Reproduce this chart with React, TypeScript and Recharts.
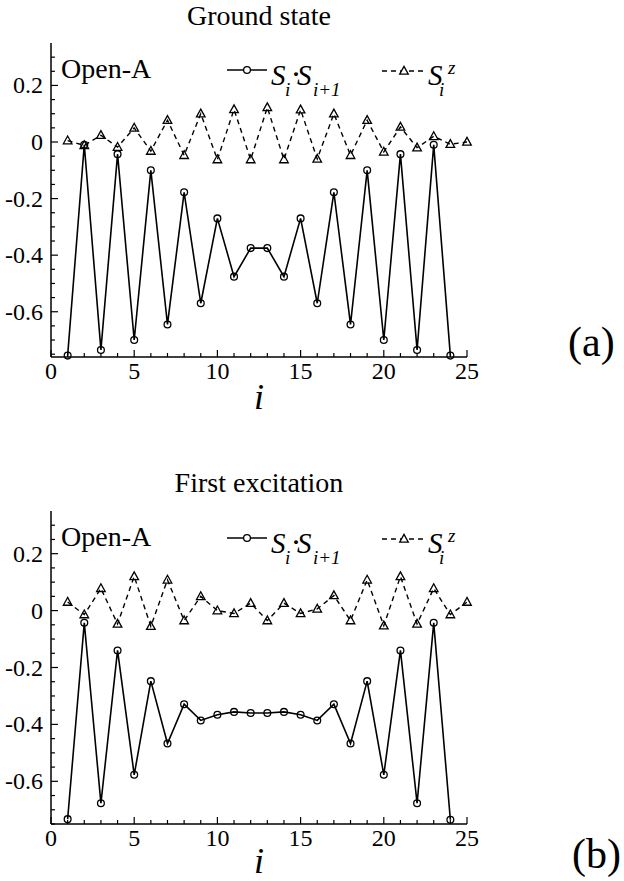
import React from 'react';
import { LineChart, Line, XAxis, YAxis, Legend } from 'recharts';

const FONT = "'Times New Roman', 'Liberation Serif', 'DejaVu Serif', serif";
const W = 624;

// site index i
const sites = [1, 2, 3, 4, 5, 6, 7, 8, 9, 10, 11, 12, 13, 14, 15, 16, 17, 18, 19, 20, 21, 22, 23, 24, 25];

// (a) Ground state
const groundSS = [-0.755, -0.01, -0.735, -0.043, -0.7, -0.1, -0.645, -0.178, -0.57, -0.27, -0.476, -0.375,
  -0.375, -0.476, -0.27, -0.57, -0.178, -0.645, -0.1, -0.7, -0.043, -0.735, -0.01, -0.755];
const groundSz = [0.005, -0.012, 0.024, -0.018, 0.05, -0.032, 0.077, -0.047, 0.1, -0.062, 0.115, -0.062, 0.122,
  -0.062, 0.114, -0.06, 0.1, -0.047, 0.077, -0.035, 0.053, -0.02, 0.02, -0.008, 0.0];

// (b) First excitation
const excitedSS = [-0.733, -0.043, -0.677, -0.14, -0.577, -0.248, -0.467, -0.329, -0.386, -0.366, -0.356, -0.36,
  -0.36, -0.356, -0.366, -0.386, -0.329, -0.467, -0.248, -0.577, -0.14, -0.677, -0.043, -0.735];
const excitedSz = [0.03, -0.014, 0.078, -0.047, 0.12, -0.055, 0.108, -0.035, 0.05, 0.0, -0.01, 0.026, -0.035,
  0.026, -0.01, 0.006, 0.053, -0.035, 0.108, -0.053, 0.12, -0.047, 0.078, -0.014, 0.03];

// ticks
const xTicks = [0, 1, 2, 3, 4, 5, 6, 7, 8, 9, 10, 11, 12, 13, 14, 15, 16, 17, 18, 19, 20, 21, 22, 23, 24, 25];
const xLabelTicks = [0, 5, 10, 15, 20, 25];
const yTicks = [-0.75, -0.7, -0.65, -0.6, -0.55, -0.5, -0.45, -0.4, -0.35, -0.3, -0.25, -0.2, -0.15, -0.1, -0.05,
  0, 0.05, 0.1, 0.15, 0.2, 0.25, 0.3];
const yLabelTicks = [-0.6, -0.4, -0.2, 0, 0.2];

const near = (a: number, b: number) => Math.abs(a - b) < 1e-6;
const isYMajor = (v: number) => yLabelTicks.some((t) => near(t, v));
const isXMajor = (v: number) => xLabelTicks.some((t) => near(t, v));
const fmtY = (v: number) => (near(v, 0) ? '0' : v.toFixed(1));

const PL = 51;
const PR = 467;

const TICK_STROKE = { stroke: '#000', strokeWidth: 1.2 };

const CircleDot = (props: any) => {
  const { cx, cy, value } = props;
  if (cx == null || cy == null || value == null) return <g />;
  return <circle cx={cx} cy={cy} r={3.4} fill="none" stroke="#000" strokeWidth={1.3} />;
};

const TriDot = (props: any) => {
  const { cx, cy, value } = props;
  if (cx == null || cy == null || value == null) return <g />;
  const pts = `${cx},${cy - 4.6} ${cx - 4.3},${cy + 3.2} ${cx + 4.3},${cy + 3.2}`;
  return <polygon points={pts} fill="none" stroke="#000" strokeWidth={1.3} />;
};

type PanelProps = {
  top: number;
  height: number;
  pt: number;
  pb: number;
  yDomain: [number, number];
  ss: number[];
  sz: number[];
  title: string;
  titleY: number;
  tag: string;
  tagX: number;
  tagY: number;
  iY: number;
};

const Panel = (p: PanelProps) => {
  const data = sites.map((i, k) => ({
    i,
    ss: k < p.ss.length ? p.ss[k] : null,
    sz: k < p.sz.length ? p.sz[k] : null,
  }));

  const BottomTick = (props: any) => {
    const { x, payload } = props;
    const v = payload.value;
    const major = isXMajor(v);
    return (
      <g>
        <line x1={x} x2={x} y1={p.pb} y2={p.pb - (major ? 7 : 4)} {...TICK_STROKE} />
        {major && (
          <text className="sf" x={x} y={p.pb + 22} textAnchor="middle" fontSize={24} fill="#000">
            {v}
          </text>
        )}
      </g>
    );
  };
  const TopTick = (props: any) => {
    const { x, payload } = props;
    const major = isXMajor(payload.value);
    return <line x1={x} x2={x} y1={p.pt} y2={p.pt + (major ? 7 : 4)} {...TICK_STROKE} />;
  };
  const LeftTick = (props: any) => {
    const { y, payload } = props;
    const v = payload.value;
    const major = isYMajor(v);
    return (
      <g>
        <line x1={PL} x2={PL + (major ? 7 : 4)} y1={y} y2={y} {...TICK_STROKE} />
        {major && (
          <text className="sf" x={PL - 8} y={y + 8} textAnchor="end" fontSize={24} fill="#000">
            {fmtY(v)}
          </text>
        )}
      </g>
    );
  };
  const RightTick = (props: any) => {
    const { y, payload } = props;
    const major = isYMajor(payload.value);
    return <line x1={PR} x2={PR - (major ? 7 : 4)} y1={y} y2={y} {...TICK_STROKE} />;
  };

  const lgY = p.pt + 27;
  const txY = p.pt + 42;
  const subY = p.pt + 53;
  const LegendGraphic = () => (
    <svg width={W} height={p.height} style={{ position: 'absolute', left: 0, top: 0, overflow: 'visible' }}>
      <line x1={227} x2={267} y1={lgY} y2={lgY} stroke="#000" strokeWidth={1.6} />
      <circle cx={247} cy={lgY} r={3.4} fill="#fff" stroke="#000" strokeWidth={1.3} />
      <text className="sfi" x={271} y={txY} fontSize={29} fill="#000">S</text>
      <text className="sfi" x={285} y={subY} fontSize={19} fill="#000">i</text>
      <text className="sf" x={292} y={txY - 3} fontSize={24} fontWeight="bold" fill="#000">·</text>
      <text className="sfi" x={297} y={txY} fontSize={29} fill="#000">S</text>
      <text className="sfi" x={313} y={subY} fontSize={19} fill="#000">i+1</text>

      <line x1={382} x2={427} y1={lgY + 1} y2={lgY + 1} stroke="#000" strokeWidth={1.4} strokeDasharray="5 4" />
      <polygon
        points={`${404},${lgY + 1 - 4.6} ${404 - 4.3},${lgY + 1 + 3.2} ${404 + 4.3},${lgY + 1 + 3.2}`}
        fill="#fff"
        stroke="#000"
        strokeWidth={1.3}
      />
      <text className="sfi" x={428} y={txY} fontSize={29} fill="#000">S</text>
      <text className="sfi" x={439} y={subY} fontSize={19} fill="#000">i</text>
      <text className="sfi" x={448} y={p.pt + 31} fontSize={19} fill="#000">z</text>
    </svg>
  );

  return (
    <div style={{ position: 'absolute', left: 0, top: p.top, width: W, height: p.height }}>
      <LineChart
        width={W}
        height={p.height}
        data={data}
        margin={{ top: p.pt, right: W - PR, bottom: 0, left: 0 }}
      >
        <XAxis
          xAxisId="b"
          dataKey="i"
          type="number"
          domain={[0, 25]}
          ticks={xTicks}
          interval={0}
          height={p.height - p.pb}
          tickLine={false}
          axisLine={{ stroke: '#000', strokeWidth: 1.5 }}
          tick={<BottomTick />}
        />
        <XAxis
          xAxisId="t"
          orientation="top"
          dataKey="i"
          type="number"
          domain={[0, 25]}
          ticks={xTicks}
          interval={0}
          height={0}
          tickLine={false}
          axisLine={{ stroke: '#000', strokeWidth: 1.5 }}
          tick={<TopTick />}
        />
        <YAxis
          yAxisId="l"
          type="number"
          domain={p.yDomain}
          ticks={yTicks}
          interval={0}
          width={PL}
          tickLine={false}
          axisLine={{ stroke: '#000', strokeWidth: 1.5 }}
          tick={<LeftTick />}
        />
        <YAxis
          yAxisId="r"
          orientation="right"
          type="number"
          domain={p.yDomain}
          ticks={yTicks}
          interval={0}
          width={0}
          tickLine={false}
          axisLine={{ stroke: '#000', strokeWidth: 1.5 }}
          tick={<RightTick />}
        />
        <Legend
          layout="horizontal"
          verticalAlign="middle"
          align="center"
          wrapperStyle={{ left: 0, top: 0, width: W, height: 0 }}
          content={() => <LegendGraphic />}
        />
        <Line
          xAxisId="b"
          yAxisId="l"
          dataKey="sz"
          stroke="#000"
          strokeWidth={1.4}
          strokeDasharray="5 4"
          dot={<TriDot />}
          activeDot={false}
          isAnimationActive={false}
        />
        <Line
          xAxisId="b"
          yAxisId="l"
          dataKey="ss"
          stroke="#000"
          strokeWidth={1.6}
          dot={<CircleDot />}
          activeDot={false}
          isAnimationActive={false}
        />
      </LineChart>
      <svg
        width={W}
        height={p.height}
        style={{ position: 'absolute', left: 0, top: 0, pointerEvents: 'none', overflow: 'visible' }}
      >
        <text className="sf" x={(PL + PR) / 2} y={p.titleY} textAnchor="middle" fontSize={28} fill="#000">
          {p.title}
        </text>
        <text className="sf" x={61} y={p.pt + 35} fontSize={28} fill="#000">Open-A</text>
        <text className="sfi" x={(PL + PR) / 2} y={p.iY} textAnchor="middle" fontSize={36} fill="#000">
          i
        </text>
        <text className="sf" x={p.tagX} y={p.tagY} fontSize={42} fill="#000">{p.tag}</text>
      </svg>
    </div>
  );
};

export default function App() {
  return (
    <div style={{ position: 'absolute', left: 0, top: 0, width: W, height: 881, background: '#fff' }}>
      <style>{`.sf { font-family: ${FONT} !important; font-style: normal; } .sfi { font-family: ${FONT} !important; font-style: italic; }`}</style>
      <Panel
        top={0}
        height={440}
        pt={43}
        pb={357}
        yDomain={[-0.76, 0.35]}
        ss={groundSS}
        sz={groundSz}
        title="Ground state"
        titleY={25}
        tag="(a)"
        tagX={568}
        tagY={356}
        iY={409}
      />
      <Panel
        top={440}
        height={441}
        pt={71}
        pb={384}
        yDomain={[-0.75, 0.35]}
        ss={excitedSS}
        sz={excitedSz}
        title="First excitation"
        titleY={52}
        tag="(b)"
        tagX={572}
        tagY={428}
        iY={433}
      />
    </div>
  );
}
